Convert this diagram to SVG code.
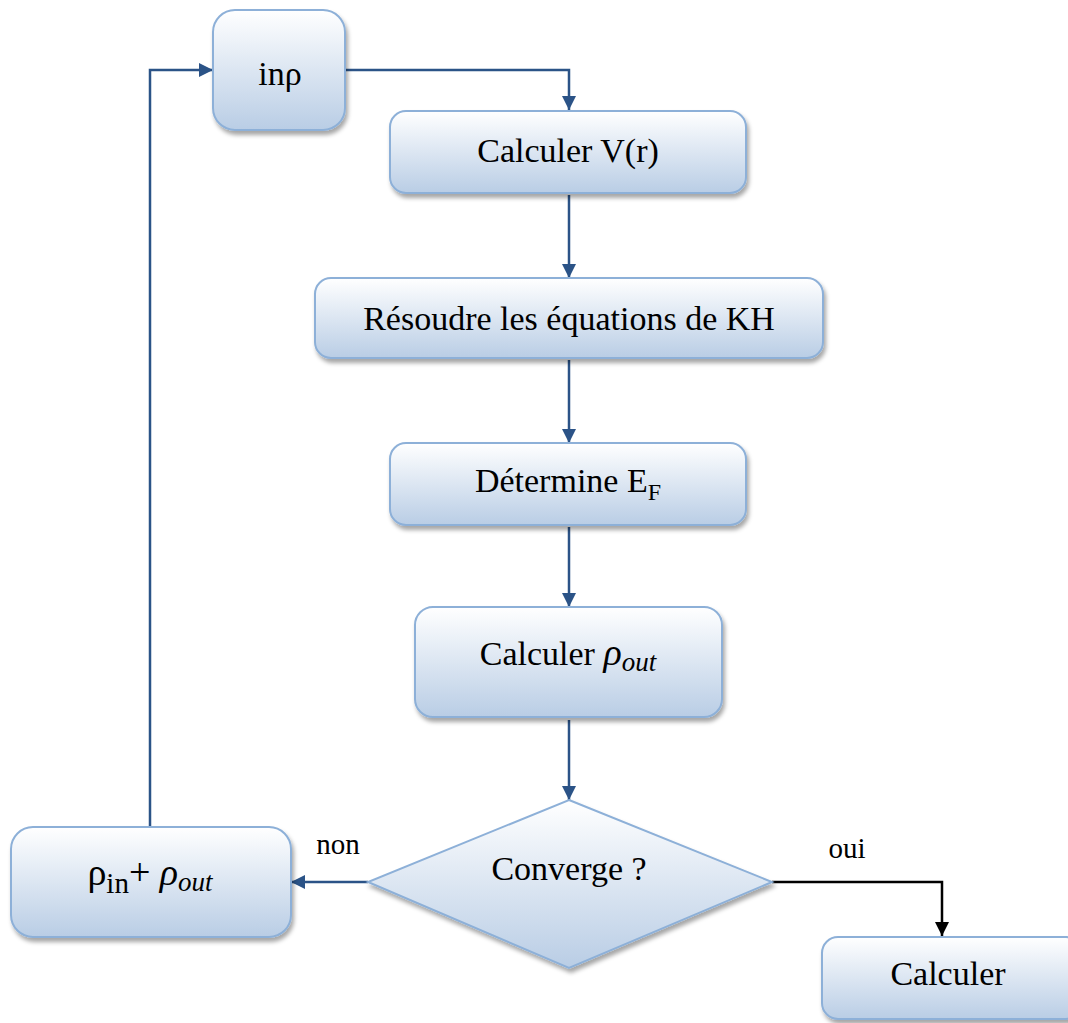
<svg xmlns="http://www.w3.org/2000/svg" width="1068" height="1023" viewBox="0 0 1068 1023">
<defs>
<linearGradient id="g" x1="0" y1="0" x2="0" y2="1">
<stop offset="0" stop-color="#ffffff"/>
<stop offset="1" stop-color="#b9cde5"/>
</linearGradient>
<filter id="sh" x="-10%" y="-10%" width="120%" height="130%">
<feDropShadow dx="2" dy="4" stdDeviation="2" flood-color="#000" flood-opacity="0.35"/>
</filter>
<marker id="ab" viewBox="0 0 10 10" refX="10" refY="5" markerWidth="14" markerHeight="14" orient="auto" markerUnits="userSpaceOnUse">
<path d="M0,0 L10,5 L0,10 z" fill="#2b5387"/>
</marker>
<marker id="abk" viewBox="0 0 10 10" refX="10" refY="5" markerWidth="14" markerHeight="14" orient="auto" markerUnits="userSpaceOnUse">
<path d="M0,0 L10,5 L0,10 z" fill="#000"/>
</marker>
<style>
.box{fill:url(#g);stroke:#8db0d8;stroke-width:2;filter:url(#sh)}
.t{font-family:'Liberation Serif',serif;font-size:34px;fill:#000;text-anchor:middle}
.s{font-size:29px}
.c{fill:none;stroke:#2b5387;stroke-width:2.5}
.k{fill:none;stroke:#000;stroke-width:2.5}
</style>
</defs>
<g id="connectors">
<path class="c" d="M345,70 H569 V110" marker-end="url(#ab)"/>
<path class="c" d="M569,195 V278" marker-end="url(#ab)"/>
<path class="c" d="M569,360 V443" marker-end="url(#ab)"/>
<path class="c" d="M569,527 V607" marker-end="url(#ab)"/>
<path class="c" d="M569,720 V800" marker-end="url(#ab)"/>
<path class="c" d="M368,882 H291" marker-end="url(#ab)"/>
<path class="c" d="M150,827 V70 H213" marker-end="url(#ab)"/>
<path class="k" d="M772,882 H942 V936" marker-end="url(#abk)"/>
</g>
<g id="n_inrho">
<rect class="box" x="213" y="10" width="132" height="120" rx="22"/>
<text class="t" x="280" y="85">inρ</text>
</g>
<g id="n_calcV">
<rect class="box" x="390" y="111" width="356" height="82" rx="16"/>
<text class="t" x="568" y="162">Calculer V(r)</text>
</g>
<g id="n_resoudre">
<rect class="box" x="315" y="278" width="508" height="80" rx="16"/>
<text class="t" x="569" y="330">Résoudre les équations de KH</text>
</g>
<g id="n_ef">
<rect class="box" x="390" y="443" width="356" height="82" rx="16"/>
<text class="t" x="568" y="492">Détermine  E<tspan font-size="24" dy="8">F</tspan></text>
</g>
<g id="n_rhoout">
<rect class="box" x="415" y="607" width="307" height="110" rx="18"/>
<text class="t" x="568" y="665">Calculer <tspan font-style="italic" font-size="38">ρ<tspan font-size="27" dy="6">out</tspan></tspan></text>
</g>
<g id="n_converge">
<polygon class="box" points="569,800 772,882 569,968 368,882"/>
<text class="t" x="569" y="880">Converge ?</text>
</g>
<g id="n_mix">
<rect class="box" x="11" y="827" width="280" height="110" rx="22"/>
<text class="t" x="150" y="885" style="font-size:38px">ρ<tspan font-size="29" dy="8">in</tspan><tspan dy="-8">+ </tspan><tspan font-style="italic">ρ<tspan font-size="27" dy="6">out</tspan></tspan></text>
</g>
<g id="n_calc">
<rect class="box" x="822" y="937" width="260" height="82" rx="16"/>
<text class="t" x="948" y="985">Calculer</text>
</g>
<text class="t s" x="338" y="854">non</text>
<text class="t s" x="847" y="858">oui</text>
</svg>
